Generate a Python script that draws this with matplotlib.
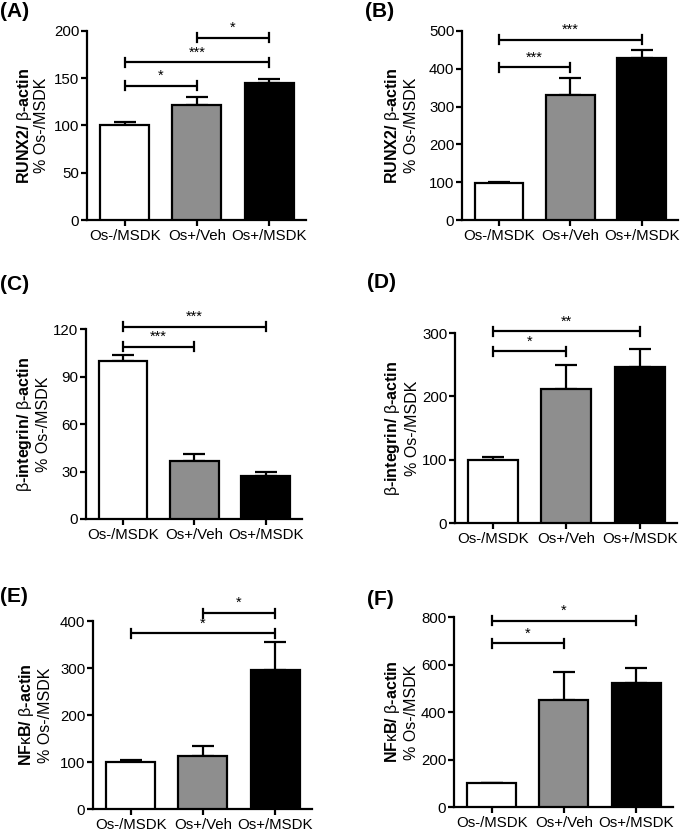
import matplotlib
matplotlib.use("Agg")
import matplotlib.pyplot as plt
import numpy as np

plt.rcParams['font.family'] = ['Liberation Sans', 'DejaVu Sans']
plt.rcParams['mathtext.fontset'] = 'custom'
plt.rcParams['mathtext.rm'] = 'Liberation Sans'
plt.rcParams['mathtext.bf'] = 'Liberation Sans:bold'
plt.rcParams['mathtext.it'] = 'Liberation Sans:italic'

categories = ["Os-/MSDK", "Os+/Veh", "Os+/MSDK"]
bar_colors = ["white", "#8e8e8e", "black"]

# panel data: means and upper SEM
A_mean = [100, 122, 145]
A_err = [4, 8, 4]
B_mean = [99, 332, 429]
B_err = [2, 43, 21]
C_mean = [100, 36.7, 27]
C_err = [3.8, 4.1, 2.6]
D_mean = [100, 212, 247]
D_err = [4, 38, 27]
E_mean = [101, 113, 296]
E_err = [3.5, 22, 60]
F_mean = [101, 449, 524]
F_err = [1.5, 121, 63]

A_ticks = [0, 50, 100, 150, 200]
B_ticks = [0, 100, 200, 300, 400, 500]
C_ticks = [0, 30, 60, 90, 120]
D_ticks = [0, 100, 200, 300]
E_ticks = [0, 100, 200, 300, 400]
F_ticks = [0, 200, 400, 600, 800]

# significance: (from, to, y, label)
A_sig = [(1, 2, 193, "*"), (0, 2, 167, "***"), (0, 1, 142, "*")]
B_sig = [(0, 2, 477, "***"), (0, 1, 404, "***")]
C_sig = [(0, 2, 121.5, "***"), (0, 1, 108.8, "***")]
D_sig = [(0, 2, 303, "**"), (0, 1, 271, "*")]
E_sig = [(1, 2, 417, "*"), (0, 2, 374, "*")]
F_sig = [(0, 2, 785, "*"), (0, 1, 690, "*")]

line1_runx = r"RUNX2/ $\mathrm{\beta}$-actin"
line1_integ = r"$\mathrm{\beta}$-integrin/ $\mathrm{\beta}$-actin"
line1_nfkb = r"NF$\mathrm{\kappa}$B/ $\mathrm{\beta}$-actin"
line2 = "% Os-/MSDK"

W, H = 680, 830
fig = plt.figure(figsize=(W / 100, H / 100), dpi=100)

# layout: (left, top, right, bottom) in pixels, label offsets, panel letter pos
panels = [
    ("(A)", (87, 31, 306, 220), A_mean, A_err, A_ticks, A_sig, line1_runx, (-62, -45), (0, 2)),
    ("(B)", (462, 31, 678, 220), B_mean, B_err, B_ticks, B_sig, line1_runx, (-69, -50), (365, 2)),
    ("(C)", (86, 329, 302, 519), C_mean, C_err, C_ticks, C_sig, line1_integ, (-61, -43), (0, 275)),
    ("(D)", (455, 333, 677, 523), D_mean, D_err, D_ticks, D_sig, line1_integ, (-62, -42), (367, 273)),
    ("(E)", (93, 621, 312, 809), E_mean, E_err, E_ticks, E_sig, line1_nfkb, (-66, -48), (0, 587)),
    ("(F)", (454, 617, 673, 807), F_mean, F_err, F_ticks, F_sig, line1_nfkb, (-61, -42), (367, 590)),
]

lw = 1.6
for letter, (l, t, r, b), means, errs, ticks, sigs, lab1, (dx1, dx2), (px, py) in panels:
    ax = fig.add_axes([l / W, 1 - b / H, (r - l) / W, (b - t) / H])
    x = np.arange(len(categories))
    ax.bar(x, means, width=0.68, color=bar_colors, edgecolor="black", linewidth=lw, zorder=3)
    ax.errorbar(x, means, yerr=[np.zeros(len(errs)), errs], fmt="none", ecolor="black",
                elinewidth=lw, capsize=8, capthick=lw, zorder=2)
    ax.set_xlim(-0.52, 2.51)
    ax.set_ylim(0, ticks[-1])
    ax.set_yticks(ticks)
    ax.set_xticks(x)
    ax.set_xticklabels(categories)
    for s in ["top", "right"]:
        ax.spines[s].set_visible(False)
    for s in ["left", "bottom"]:
        ax.spines[s].set_linewidth(lw)
    ax.tick_params(axis="both", width=lw, length=4, labelsize=10.8, color="black")
    ax.tick_params(axis="y", pad=1.5)
    ax.tick_params(axis="x", pad=2.2)
    # significance brackets
    span = ticks[-1]
    cap = 4.5 / (b - t) * span
    for i0, i1, y, lab in sigs:
        ax.plot([i0, i1], [y, y], color="black", lw=lw, clip_on=False, solid_capstyle="butt")
        ax.plot([i0, i0], [y - cap, y + cap], color="black", lw=lw, clip_on=False)
        ax.plot([i1, i1], [y - cap, y + cap], color="black", lw=lw, clip_on=False)
        ax.annotate(lab, xy=((i0 + i1) / 2, y), xytext=(0, 2), textcoords="offset points",
                    ha="center", va="bottom", fontsize=10.5, annotation_clip=False)
    yc = 1 - (t + b) / 2 / H
    fig.text((l + dx1) / W, yc, lab1, rotation=90, ha="center", va="center",
             fontsize=11.5, fontweight="bold")
    fig.text((l + dx2) / W, yc, line2, rotation=90, ha="center", va="center", fontsize=11.5)
    fig.text(px / W, 1 - py / H, letter, ha="left", va="top", fontsize=15, fontweight="bold")

fig.savefig("out.png", dpi=100)
